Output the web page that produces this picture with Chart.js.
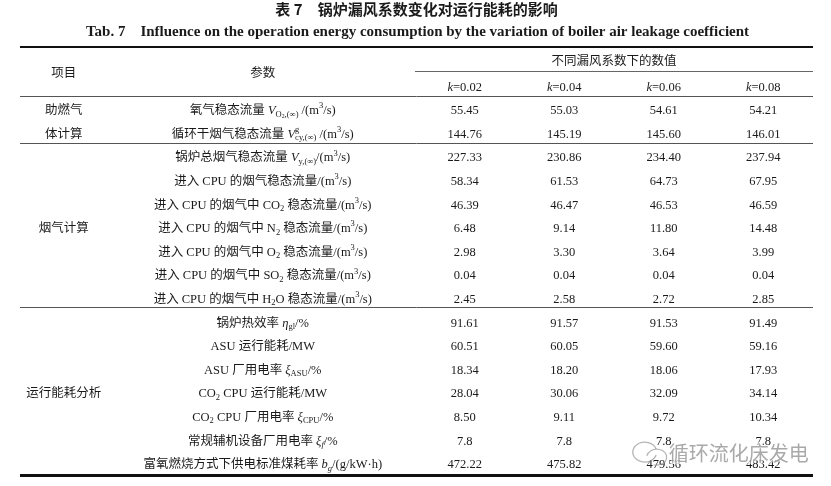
<!DOCTYPE html>
<html>
<head>
<meta charset="utf-8">
<script src="https://cdn.jsdelivr.net/npm/chart.js@4.4.0/dist/chart.umd.min.js"></script>
<style>
  html, body { margin: 0; padding: 0; background: #fff; }
  canvas { display: block; }
</style>
</head>
<body>
<canvas id="tableChart" width="831" height="486"></canvas>
<script>
// table text and values (markup: *..* italic, _{..} subscript, ^{..} superscript)
const title = '表 7　锅炉漏风系数变化对运行能耗的影响';
const subtitle = 'Tab. 7    Influence on the operation energy consumption by the variation of boiler air leakage coefficient';

const headGroup = '项目';
const headParam = '参数';
const headValues = '不同漏风系数下的数值';
const kLabels = ['*k*=0.02', '*k*=0.04', '*k*=0.06', '*k*=0.08'];

const groupNames = ['助燃气', '体计算', '烟气计算', '运行能耗分析'];
const groupRows = [0, 1, 5, 12];

const params = [
    '氧气稳态流量 *V*_{O_{2},(∞)} /(m^{3}/s)',
    '循环干烟气稳态流量 *V*^{g}_{cy,(∞)} /(m^{3}/s)',
    '锅炉总烟气稳态流量 *V*_{y,(∞)}/(m^{3}/s)',
    '进入 CPU 的烟气稳态流量/(m^{3}/s)',
    '进入 CPU 的烟气中 CO_{2} 稳态流量/(m^{3}/s)',
    '进入 CPU 的烟气中 N_{2} 稳态流量/(m^{3}/s)',
    '进入 CPU 的烟气中 O_{2} 稳态流量/(m^{3}/s)',
    '进入 CPU 的烟气中 SO_{2} 稳态流量/(m^{3}/s)',
    '进入 CPU 的烟气中 H_{2}O 稳态流量/(m^{3}/s)',
    '锅炉热效率 *η*_{gl}/%',
    'ASU 运行能耗/MW',
    'ASU 厂用电率 *ξ*_{ASU}/%',
    'CO_{2} CPU 运行能耗/MW',
    'CO_{2} CPU 厂用电率 *ξ*_{CPU}/%',
    '常规辅机设备厂用电率 *ξ*_{*f*}/%',
    '富氧燃烧方式下供电标准煤耗率 *b*_{*g*}/(g/kW·h)'
];

const k002 = [55.45, 144.76, 227.33, 58.34, 46.39, 6.48, 2.98, 0.04, 2.45, 91.61, 60.51, 18.34, 28.04, 8.50, 7.8, 472.22];
const k004 = [55.03, 145.19, 230.86, 61.53, 46.47, 9.14, 3.30, 0.04, 2.58, 91.57, 60.05, 18.20, 30.06, 9.11, 7.8, 475.82];
const k006 = [54.61, 145.60, 234.40, 64.73, 46.53, 11.80, 3.64, 0.04, 2.72, 91.53, 59.60, 18.06, 32.09, 9.72, 7.8, 479.56];
const k008 = [54.21, 146.01, 237.94, 67.95, 46.59, 14.48, 3.99, 0.04, 2.85, 91.49, 59.16, 17.93, 34.14, 10.34, 7.8, 483.42];
const decimals = [2, 2, 2, 2, 2, 2, 2, 2, 2, 2, 2, 2, 2, 2, 1, 2];

const watermark = '循环流化床发电';

// layout in scale units: x = column index (value columns 0..3), y = row index
const groupCol = -4.03;
const paramCol = -2.03;
const BODY = 12.5;
const SERIF = "'Liberation Serif', 'Noto Sans CJK SC', serif";
const INK = '#1a1a1a';

function parseRich(s) {
    const runs = [];
    function walk(i, st) {
        let buf = '';
        const flush = () => {
            if (buf) { runs.push({ t: buf, it: st.it, dy: st.dy, sc: st.sc }); buf = ''; }
        };
        while (i < s.length) {
            const ch = s[i];
            if (ch === '*') { flush(); st = { ...st, it: !st.it }; i++; }
            else if ((ch === '_' || ch === '^') && s[i + 1] === '{') {
                flush();
                const sub = ch === '_';
                runs.push({ mark: sub ? 'sub' : 'sup' });
                i = walk(i + 2, { it: st.it, dy: st.dy + (sub ? 0.28 : -0.38) * st.sc * BODY, sc: st.sc * 0.68 });
                runs.push({ mark: sub ? 'endsub' : 'endsup' });
            }
            else if (ch === '}') { flush(); return i + 1; }
            else { buf += ch; i++; }
        }
        flush();
        return i;
    }
    walk(0, { it: false, dy: 0, sc: 1 });
    return runs;
}

function richText(ctx, s, x, y, size, align, draw) {
    const runs = parseRich(s);
    let cx = 0, supStart = null, supEnd = null, lastMark = null, stackedEnd = null, depth = 0;
    const pieces = [];
    runs.forEach((r) => {
        if (r.mark) {
            if (r.mark === 'sup' && depth === 0) supStart = cx;
            if (r.mark === 'endsup' && depth === 1) supEnd = cx;
            if (r.mark === 'sub' && depth === 0 && lastMark === 'endsup') { stackedEnd = supEnd; cx = supStart; }
            if (r.mark === 'endsub' && depth === 1 && stackedEnd !== null) { cx = Math.max(cx, stackedEnd); stackedEnd = null; }
            depth += (r.mark === 'sub' || r.mark === 'sup') ? 1 : -1;
            lastMark = r.mark;
            return;
        }
        lastMark = null;
        const font = (r.it ? 'italic ' : '') + (size * r.sc) + 'px ' + SERIF;
        ctx.font = font;
        const w = ctx.measureText(r.t).width;
        pieces.push({ t: r.t, font, x: cx, dy: r.dy * size / BODY });
        cx += w;
    });
    const total = cx;
    if (!draw) return total;
    const x0 = align === 'center' ? x - total / 2 : x;
    ctx.textAlign = 'left';
    ctx.textBaseline = 'middle';
    pieces.forEach((p) => {
        ctx.font = p.font;
        ctx.fillText(p.t, x0 + p.x, y + p.dy);
    });
    return total;
}

const tablePlugin = {
    id: 'tablePlugin',
    afterDatasetsDraw(chart) {
        const ctx = chart.ctx;
        const xs = chart.scales.x;
        const ys = chart.scales.y;
        const X = (v) => xs.getPixelForValue(v);
        const Y = (v) => ys.getPixelForValue(v);
        const midX = chart.width / 2 + 1;
        ctx.save();
        ctx.fillStyle = INK;

        // titles
        ctx.textAlign = 'center';
        ctx.textBaseline = 'middle';
        ctx.font = "bold 15px 'Noto Sans CJK SC'";
        ctx.fillText(title, midX, Y(-4.29));
        ctx.font = "bold 15px 'Liberation Serif'";
        ctx.fillText(subtitle, midX + 1, Y(-3.35));

        // rules
        const rule = (y, x1, x2, w, col) => {
            ctx.beginPath();
            ctx.strokeStyle = col;
            ctx.lineWidth = w;
            ctx.moveTo(X(x1), Math.round(Y(y)) + (w % 2 ? 0.5 : 0));
            ctx.lineTo(X(x2), Math.round(Y(y)) + (w % 2 ? 0.5 : 0));
            ctx.stroke();
        };
        rule(-2.71, -4.47, 3.5, 2, '#111');
        rule(-1.68, -0.5, 3.5, 1, '#666');
        rule(-0.64, -4.47, 3.5, 1, '#555');
        rule(1.37, -4.47, 3.5, 1, '#555');
        rule(8.31, -4.47, 3.5, 1, '#555');
        rule(15.43, -4.47, 3.5, 3, '#111');

        // header
        ctx.fillStyle = INK;
        richText(ctx, headGroup, X(groupCol), Y(-1.57), BODY, 'center', true);
        richText(ctx, headParam, X(paramCol), Y(-1.57), BODY, 'center', true);
        richText(ctx, headValues, X(1.5), Y(-2.1), BODY, 'center', true);
        kLabels.forEach((k, c) => richText(ctx, k, X(c), Y(-1.0), BODY, 'center', true));

        // group and parameter labels
        groupNames.forEach((g, i) => richText(ctx, g, X(groupCol), Y(groupRows[i]), BODY, 'center', true));
        params.forEach((p, r) => richText(ctx, p, X(paramCol), Y(r), BODY, 'center', true));

        // values at the dataset points
        chart.data.datasets.forEach((ds, di) => {
            chart.getDatasetMeta(di).data.forEach((pt, i) => {
                const txt = ds.values[i].toFixed(decimals[i]);
                richText(ctx, txt, pt.x, pt.y, BODY, 'center', true);
            });
        });

        // watermark
        const wy = Y(14.5);
        const wx = X(2.05);
        ctx.strokeStyle = 'rgba(150,150,150,0.7)';
        ctx.lineWidth = 1.2;
        ctx.beginPath();
        ctx.ellipse(wx - 24, wy - 1, 12, 10, 0, 0.3, Math.PI * 2 - 0.3);
        ctx.stroke();
        ctx.beginPath();
        ctx.ellipse(wx - 12, wy + 4, 10, 8, 0, Math.PI * 1.05, Math.PI * 2.6);
        ctx.stroke();
        ctx.font = "20px 'Noto Sans CJK SC'";
        ctx.textAlign = 'left';
        ctx.lineWidth = 2.5;
        ctx.strokeStyle = 'rgba(255,255,255,0.6)';
        ctx.strokeText(watermark, wx, wy);
        ctx.fillStyle = 'rgba(140,140,140,0.75)';
        ctx.fillText(watermark, wx, wy);
        ctx.restore();
    }
};

const series = [k002, k004, k006, k008];
const ctx = document.getElementById('tableChart').getContext('2d');
const tableChart = new Chart(ctx, {
    type: 'scatter',
    data: {
        datasets: series.map((vals, c) => ({
            label: kLabels[c],
            values: vals,
            data: vals.map((v, r) => ({ x: c, y: r })),
            pointRadius: 0,
            pointHoverRadius: 0
        }))
    },
    options: {
        responsive: false,
        animation: false,
        layout: { padding: { left: 17, right: 18, top: 0, bottom: 0 } },
        plugins: { legend: { display: false }, tooltip: { enabled: false } },
        scales: {
            x: { type: 'linear', min: -4.5, max: 3.5, display: false },
            y: { type: 'linear', min: -4.7, max: 15.893, reverse: true, display: false }
        }
    },
    plugins: [tablePlugin]
});
</script>
</body>
</html>
